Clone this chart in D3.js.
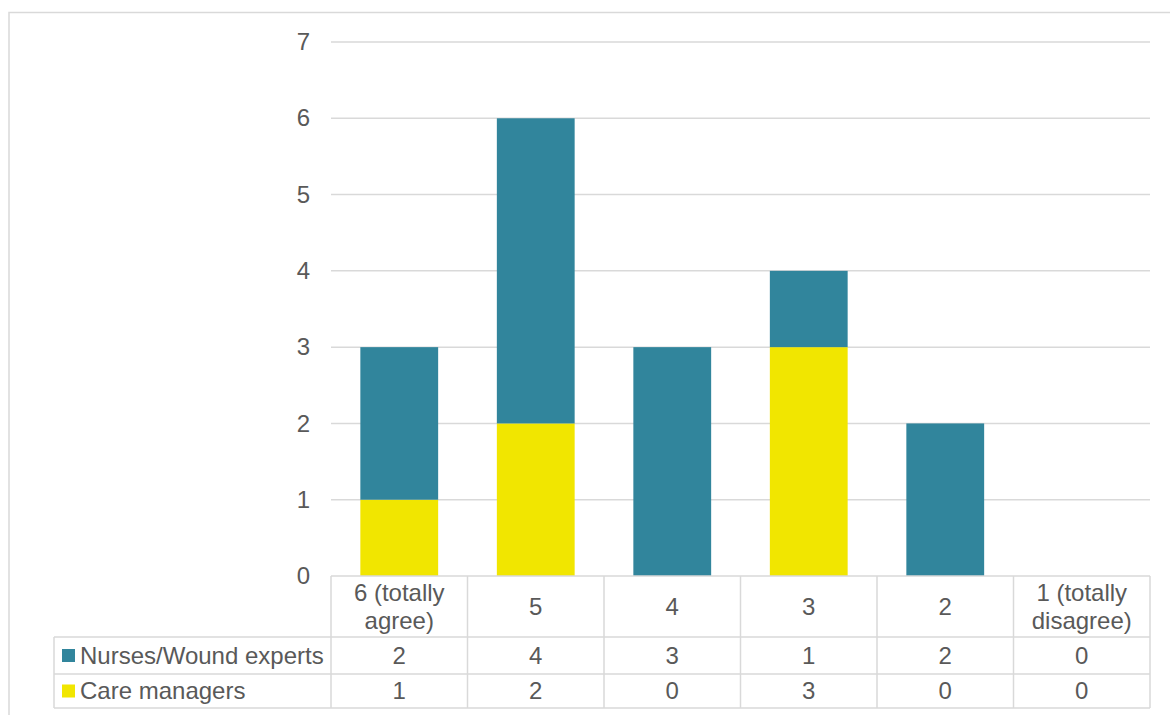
<!DOCTYPE html>
<html>
<head>
<meta charset="utf-8">
<script src="https://cdn.jsdelivr.net/npm/d3@7"></script>
<style>
  html, body { margin: 0; padding: 0; background: #fff; }
  svg { display: block; }
  text { font-family: "Liberation Sans", Arial, sans-serif; fill: #595959; }
</style>
</head>
<body>
<svg id="chart" width="1170" height="715"></svg>
<script>
// Response categories (agreement scale)
const categories = [["6 (totally", "agree)"], ["5"], ["4"], ["3"], ["2"], ["1 (totally", "disagree)"]];
const categoryKeys = ["6", "5", "4", "3", "2", "1"];

// Series
const seriesNames = ["Nurses/Wound experts", "Care managers"];
const nursesValues = [2, 4, 3, 1, 2, 0];
const careValues = [1, 2, 0, 3, 0, 0];
const seriesColors = ["#31859c", "#f1e600"];

const yTicks = [0, 1, 2, 3, 4, 5, 6, 7];

const svg = d3.select("#chart");
const gridColor = "#d9d9d9";
const fontSize = 24;

// chart frame
svg.append("rect")
  .attr("x", 9).attr("y", 12.5)
  .attr("width", 1180).attr("height", 720)
  .attr("fill", "none").attr("stroke", gridColor).attr("stroke-width", 1.5);

const plot = { left: 331, right: 1150, top: 42, bottom: 576 };

const x = d3.scaleBand()
  .domain(categoryKeys)
  .range([plot.left, plot.right])
  .paddingInner(0.43)
  .paddingOuter(0.215);

const y = d3.scaleLinear().domain([0, 7]).range([plot.bottom, plot.top]);

// gridlines and tick labels
const yAxis = d3.axisLeft(y).tickValues(yTicks).tickSize(0).tickPadding(21)
  .tickFormat(d3.format("d"));
const gAxis = svg.append("g").attr("transform", `translate(${plot.left},0)`).call(yAxis);
gAxis.select(".domain").remove();
gAxis.selectAll("text")
  .style("font-size", fontSize + "px")
  .attr("fill", "#595959")
  .attr("font-family", "Liberation Sans, Arial, sans-serif");

svg.append("g").selectAll("line")
  .data(yTicks.filter(d => d > 0))
  .join("line")
  .attr("x1", plot.left).attr("x2", plot.right)
  .attr("y1", d => y(d)).attr("y2", d => y(d))
  .attr("stroke", gridColor).attr("stroke-width", 1.5);

// stacked bars: care managers at the base, nurses above
const rows = categoryKeys.map((k, i) => ({ key: k, nurses: nursesValues[i], care: careValues[i] }));
const stack = d3.stack().keys(["care", "nurses"]);
const stacked = stack(rows);
const colorFor = { care: seriesColors[1], nurses: seriesColors[0] };

svg.append("g").selectAll("g")
  .data(stacked)
  .join("g")
  .attr("fill", s => colorFor[s.key])
  .selectAll("rect")
  .data(s => s)
  .join("rect")
  .attr("x", d => x(d.data.key))
  .attr("width", x.bandwidth())
  .attr("y", d => y(d[1]))
  .attr("height", d => y(d[0]) - y(d[1]));

// data table
const step = x.step();
const colEdges = categoryKeys.map(k => x(k) - x.paddingInner() * step / 2);
colEdges.push(plot.right);
const legendLeft = 54;
const rowY = [plot.bottom, 637, 674, 708];

const table = svg.append("g").attr("stroke", gridColor).attr("stroke-width", 1.5);
// horizontal rules
table.append("line").attr("x1", plot.left).attr("x2", plot.right)
  .attr("y1", rowY[0]).attr("y2", rowY[0]);
rowY.slice(1).forEach(yy => {
  table.append("line").attr("x1", legendLeft).attr("x2", plot.right)
    .attr("y1", yy).attr("y2", yy);
});
// vertical rules
colEdges.forEach(xx => {
  table.append("line").attr("x1", xx).attr("x2", xx)
    .attr("y1", rowY[0]).attr("y2", rowY[3]);
});
table.append("line").attr("x1", legendLeft).attr("x2", legendLeft)
  .attr("y1", rowY[1]).attr("y2", rowY[3]);

// header labels
const headerMid = (rowY[0] + rowY[1]) / 2;
categories.forEach((lines, i) => {
  const cx = x(categoryKeys[i]) + x.bandwidth() / 2;
  const t = svg.append("text")
    .attr("x", cx)
    .attr("text-anchor", "middle")
    .style("font-size", fontSize + "px");
  const lh = 28;
  const y0 = headerMid - (lines.length - 1) * lh / 2;
  lines.forEach((ln, j) => {
    t.append("tspan").attr("x", cx).attr("y", y0 + j * lh)
      .attr("dy", "0.35em").text(ln);
  });
});

// series rows
const seriesValues = [nursesValues, careValues];
seriesNames.forEach((name, r) => {
  const mid = (rowY[r + 1] + rowY[r + 2]) / 2;
  svg.append("rect")
    .attr("x", 62).attr("y", mid - 6.5)
    .attr("width", 13).attr("height", 13)
    .attr("fill", seriesColors[r]);
  svg.append("text")
    .attr("x", 80).attr("y", mid).attr("dy", "0.35em")
    .style("font-size", fontSize + "px")
    .text(name);
  seriesValues[r].forEach((v, i) => {
    svg.append("text")
      .attr("x", x(categoryKeys[i]) + x.bandwidth() / 2)
      .attr("y", mid).attr("dy", "0.35em")
      .attr("text-anchor", "middle")
      .style("font-size", fontSize + "px")
      .text(v);
  });
});
</script>
</body>
</html>
